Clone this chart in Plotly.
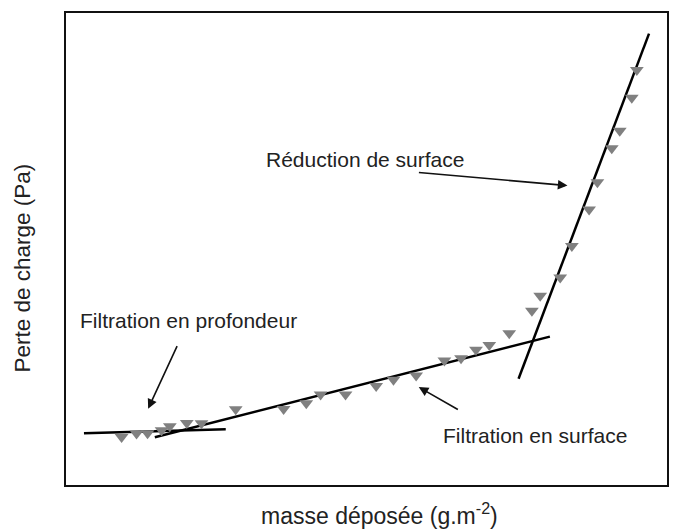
import plotly.graph_objects as go

# Measured data (arbitrary units: x = deposited mass, y = pressure drop)
mass = [9.25, 11.74, 13.57, 15.9, 17.28, 20.1, 22.54, 28.24, 36.21, 39.98,
        42.36, 46.51, 51.61, 54.49, 58.26, 62.96, 65.73, 68.22, 70.43, 73.75,
        77.52, 78.9, 82.23, 84.17, 87.04, 88.42, 90.81, 92.14, 94.14, 94.98]
dp = [10.19, 10.91, 10.97, 11.6, 12.45, 13.14, 13.08, 16.03, 16.1, 17.3,
      19.2, 19.2, 20.95, 22.3, 23.21, 26.37, 26.86, 28.63, 29.68, 32.13,
      36.92, 40.08, 43.94, 50.63, 58.38, 64.14, 71.37, 75.04, 82.07, 87.91]

# Fitted regime lines (endpoints)
depth_x = [2.99, 26.58]
depth_y = [10.97, 11.81]
surf_x = [14.78, 80.51]
surf_y = [10.13, 31.43]
red_x = [75.3, 97.01]
red_y = [22.51, 95.63]

# Annotation labels and arrows
labels = ["Réduction de surface", "Filtration en profondeur", "Filtration en surface"]
label_x = [49.67, 20.43, 78.07]
label_y = [68.99, 34.81, 10.55]
arrow_tail_x = [58.47, 18.6, 65.45]
arrow_tail_y = [66.24, 29.75, 15.82]
arrow_tip_x = [83.44, 13.67, 58.69]
arrow_tip_y = [63.44, 16.18, 20.74]

font_family = "Liberation Sans, Arial, sans-serif"
text_color = "#222222"

fig = go.Figure()
for lx, ly in [(depth_x, depth_y), (surf_x, surf_y), (red_x, red_y)]:
    fig.add_trace(go.Scatter(x=lx, y=ly, mode="lines",
                             line=dict(color="black", width=2.5),
                             showlegend=False, hoverinfo="skip"))
fig.add_trace(go.Scatter(x=mass, y=dp, mode="markers",
                         marker=dict(symbol="triangle-down", size=12,
                                     color="#808080", line=dict(width=0)),
                         showlegend=False))

annotations = []
for t, x, y in zip(labels, label_x, label_y):
    annotations.append(dict(x=x, y=y, xref="x", yref="y", text=t,
                            showarrow=False,
                            font=dict(size=21, color=text_color, family=font_family)))
for tx, ty, hx, hy in zip(arrow_tail_x, arrow_tail_y, arrow_tip_x, arrow_tip_y):
    annotations.append(dict(x=hx, y=hy, ax=tx, ay=ty, xref="x", yref="y",
                            axref="x", ayref="y", text="", showarrow=True,
                            arrowhead=2, arrowsize=1.2, arrowwidth=1.6,
                            arrowcolor="#111111", standoff=0, startstandoff=0))
annotations.append(dict(x=0.5216, y=-0.0620, xref="paper", yref="paper",
                        text="masse déposée (g.m<sup>-2</sup>)", showarrow=False,
                        xanchor="center", yanchor="middle",
                        font=dict(size=23, color=text_color, family=font_family)))
annotations.append(dict(x=-0.0720, y=0.46, xref="paper", yref="paper",
                        text="Perte de charge (Pa)", showarrow=False, textangle=-90,
                        xanchor="center", yanchor="middle",
                        font=dict(size=22.5, color=text_color, family=font_family)))

fig.update_layout(
    width=680, height=529,
    margin=dict(l=66, r=12, t=11, b=44),
    paper_bgcolor="white", plot_bgcolor="white",
    annotations=annotations,
    xaxis=dict(range=[0, 100], showgrid=False, zeroline=False, showticklabels=False,
               ticks="", showline=True, linecolor="#111111", linewidth=2, mirror=True),
    yaxis=dict(range=[0, 100], showgrid=False, zeroline=False, showticklabels=False,
               ticks="", showline=True, linecolor="#111111", linewidth=2, mirror=True),
)

fig.write_html("out.html", config={"displayModeBar": False},
               post_script="document.body.style.margin='0';document.body.style.overflow='hidden';")
